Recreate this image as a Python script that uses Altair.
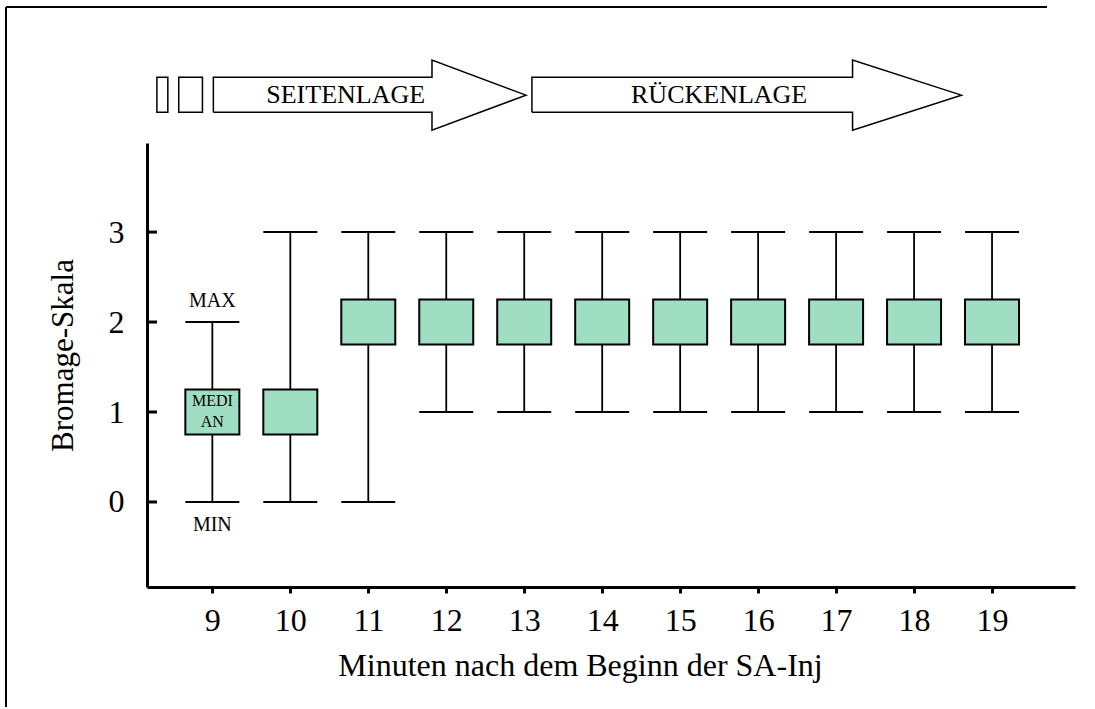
import altair as alt
import pandas as pd

FONT = "Liberation Serif"

# Bromage score per minute after start of the spinal injection
minutes = [9, 10, 11, 12, 13, 14, 15, 16, 17, 18, 19]
score_min = [0, 0, 0, 1, 1, 1, 1, 1, 1, 1, 1]
score_max = [2, 3, 3, 3, 3, 3, 3, 3, 3, 3, 3]
score_q1 = [0.75, 0.75, 1.75, 1.75, 1.75, 1.75, 1.75, 1.75, 1.75, 1.75, 1.75]
score_q3 = [1.25, 1.25, 2.25, 2.25, 2.25, 2.25, 2.25, 2.25, 2.25, 2.25, 2.25]

y_ticks = [0, 1, 2, 3]

# Patient positioning phases (arrows above the plot, in minutes)
phase_names = ["SEITENLAGE", "RÜCKENLAGE"]
phase_start = [9.013, 13.099]
phase_head = [11.817, 17.211]
phase_tip = [13.023, 18.607]
phase_text_x = [10.71, 15.50]
pre_block_start = [8.289, 8.569]
pre_block_end = [8.429, 8.873]

# vertical band of the arrows (score units)
band_lo, band_hi = 4.333, 4.722
head_lo, head_hi = 4.133, 4.911
band_mid = 4.522
band_text = 4.433

# labels explaining the first box
note_text = ["MAX", "MIN", "MEDI", "AN"]
note_y = [2.17, -0.32, 1.07, 0.83]
note_size = [20, 20, 16, 16]

X_DOMAIN = [8.226, 20.0]
Y_DOMAIN = [-0.945, 3.99]

boxes = pd.DataFrame({
    "minute": minutes, "lo": score_min, "hi": score_max,
    "q1": score_q1, "q3": score_q3,
})

xs = alt.Scale(domain=X_DOMAIN, nice=False, zero=False)
ys = alt.Scale(domain=Y_DOMAIN, nice=False, zero=False)

x_axis = alt.Axis(
    values=minutes, grid=False, format="d",
    domainColor="black", domainWidth=3,
    tickColor="black", tickWidth=3, tickSize=6,
    labelFont=FONT, labelFontSize=32, labelColor="black",
    labelBaseline="alphabetic", labelPadding=37, labelFlush=False,
    title="Minuten nach dem Beginn der SA-Inj",
    titleFont=FONT, titleFontSize=32, titleFontWeight="normal", titleColor="black",
    titleX=433, titleY=88, titleBaseline="alphabetic", titleAlign="center",
)
y_axis = alt.Axis(
    values=y_ticks, grid=False, format="d",
    domainColor="black", domainWidth=3,
    ticks=False, tickSize=0,
    labelFont=FONT, labelFontSize=32, labelColor="black", labelPadding=23,
    title="Bromage-Skala",
    titleFont=FONT, titleFontSize=31, titleFontWeight="normal", titleColor="black",
    titleX=-75, titleY=212, titleAngle=270, titleBaseline="alphabetic", titleAlign="center",
)


def X(field):
    return alt.X(field, scale=xs, axis=x_axis)


def Y(field):
    return alt.Y(field, scale=ys, axis=y_axis)


base = alt.Chart(boxes)

whiskers = base.mark_rule(color="black", strokeWidth=1.8).encode(
    x=X("minute:Q"), y=Y("lo:Q"), y2="hi:Q",
)
caps_hi = base.mark_tick(orient="horizontal", size=54, thickness=2, color="black", opacity=1).encode(
    x=X("minute:Q"), y=Y("hi:Q"),
)
caps_lo = base.mark_tick(orient="horizontal", size=54, thickness=2, color="black", opacity=1).encode(
    x=X("minute:Q"), y=Y("lo:Q"),
)
box = base.mark_bar(size=54, fill="#A0DEC3", stroke="black", strokeWidth=2, opacity=1).encode(
    x=X("minute:Q"), y=Y("q1:Q"), y2="q3:Q",
)

# inward-pointing y ticks
ytick_marks = alt.Chart(pd.DataFrame({"v": y_ticks})).mark_rule(color="black", strokeWidth=3).encode(
    y=Y("v:Q"), x=alt.value(0), x2=alt.value(10),
)

notes = alt.Chart(pd.DataFrame({
    "t": note_text, "x": [minutes[0]] * len(note_text), "y": note_y, "s": note_size,
})).mark_text(font=FONT, color="black", baseline="alphabetic", align="center").encode(
    x=X("x:Q"), y=Y("y:Q"), text="t:N",
    size=alt.Size("s:Q", scale=None, legend=None),
)

# arrow outlines
rows = []
for i, name in enumerate(phase_names):
    pts = [
        (phase_start[i], band_lo), (phase_head[i], band_lo), (phase_head[i], head_lo),
        (phase_tip[i], band_mid), (phase_head[i], head_hi), (phase_head[i], band_hi),
        (phase_start[i], band_hi), (phase_start[i], band_lo),
    ]
    for k, (px, py) in enumerate(pts):
        rows.append({"phase": name, "k": k, "x": px, "y": py})
arrows = alt.Chart(pd.DataFrame(rows)).mark_line(color="black", strokeWidth=1.5, clip=False).encode(
    x=X("x:Q"), y=Y("y:Q"), detail="phase:N", order="k:Q",
)
arrow_text = alt.Chart(pd.DataFrame({
    "t": phase_names, "x": phase_text_x, "y": [band_text] * 2,
})).mark_text(font=FONT, fontSize=26, color="black", baseline="alphabetic", align="center").encode(
    x=X("x:Q"), y=Y("y:Q"), text="t:N",
)
blocks = alt.Chart(pd.DataFrame({
    "x0": pre_block_start, "x1": pre_block_end,
    "y0": [band_lo] * 2, "y1": [band_hi] * 2,
})).mark_rect(fill="white", stroke="black", strokeWidth=1.5).encode(
    x=X("x0:Q"), x2="x1:Q", y=Y("y0:Q"), y2="y1:Q",
)

# outer frame: left and top edges
one = pd.DataFrame({"a": [0]})
frame_left = alt.Chart(one).mark_rule(color="black", strokeWidth=2).encode(
    x=alt.value(-141), y=alt.value(-136), y2=alt.value(564),
)
frame_top = alt.Chart(one).mark_rule(color="black", strokeWidth=2).encode(
    x=alt.value(-141), x2=alt.value(900), y=alt.value(-136),
)

chart = alt.layer(
    whiskers, caps_hi, caps_lo, box, ytick_marks, notes,
    arrows, arrow_text, blocks, frame_left, frame_top,
).properties(
    width=928, height=444,
    padding={"left": 147, "top": 143, "right": 20, "bottom": 122},
    autosize=alt.AutoSizeParams(type="none"),
    background="white",
).configure_view(stroke=None)

chart.save("out.html", embed_options={"renderer": "svg", "actions": False})
